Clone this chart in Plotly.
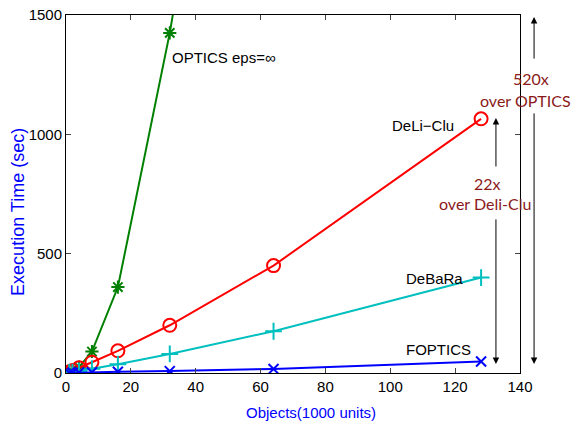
import plotly.graph_objects as go

objects = [1, 2, 4, 8, 16, 32, 64, 128]
optics_x = [1, 2, 4, 8, 16, 32, 64]
optics = [3, 8, 25, 90, 360, 1425, 4000]
deliclu = [5, 10, 22, 45, 93, 200, 450, 1065]
debara = [2, 4, 8, 18, 37, 80, 175, 400]
foptics = [0.5, 1, 2, 3, 5, 8, 17, 48]

x_ticks = [0, 20, 40, 60, 80, 100, 120, 140]
y_ticks = [0, 500, 1000, 1500]

font = "Liberation Sans, Arial, Helvetica, sans-serif"
fig = go.Figure()

def add(x, y, name, color, symbol, size):
    fig.add_trace(go.Scatter(
        x=x, y=y, name=name, mode="lines+markers",
        line=dict(color=color, width=2),
        marker=dict(symbol=symbol, size=size, color=color,
                    line=dict(color=color, width=2)),
        cliponaxis=True, showlegend=False))

add(optics_x, optics, "OPTICS", "#008000", "asterisk-open", 11)
add(objects, deliclu, "DeLi-Clu", "#FF0000", "circle-open", 13)
add(objects, debara, "DeBaRa", "#00BFBF", "cross-thin-open", 12)
add(objects, foptics, "FOPTICS", "#0000FF", "x-thin-open", 10)

labels = [("OPTICS eps=∞", 32, 1324), ("DeLi−Clu", 99.8, 1039),
          ("DeBaRa", 104.2, 398), ("FOPTICS", 104.2, 100)]
for t, lx, ly in labels:
    fig.add_annotation(x=lx, y=ly, text=t, showarrow=False, xanchor="left",
                       yanchor="middle", font=dict(family=font, size=15, color="black"))

# arrows (speed-up markers), positions in axis-domain coordinates
ymax = 1500.0
arrows = [(0.947, 1068, 859), (0.947, 38, 650), (1.031, 1492, 1311), (1.031, 38, 1094)]
for ax_x, tip, tail in arrows:
    fig.add_annotation(x=ax_x, y=tip / ymax, ax=ax_x, ay=tail / ymax,
                       xref="x domain", yref="y domain", axref="x domain", ayref="y domain",
                       text="", showarrow=True,
                       arrowhead=2, arrowsize=1.3, arrowwidth=1, arrowcolor="black")

red = "#8B1A1A"
afont = dict(family="Lato, Carlito, sans-serif", size=16, color=red)
for t, tx, ty in [("22x", 0.928, 796), ("over Deli-Clu", 0.922, 712),
                  ("520x", 1.024, 1232), ("over OPTICS", 1.013, 1140)]:
    fig.add_annotation(x=tx, y=ty / ymax, xref="x domain", yref="y domain", text=t, showarrow=False,
                       xanchor="center", yanchor="middle", font=afont)

# axis titles
fig.add_annotation(x=0.54, y=0, xref="x domain", yref="y domain", yshift=-39,
                   text="Objects(1000 units)", showarrow=False, xanchor="center", yanchor="middle",
                   font=dict(family=font, size=15, color="#0000FF"))
fig.add_annotation(x=0, y=0.45, xref="x domain", yref="y domain", xshift=-48,
                   text="Execution Time (sec)", textangle=-90, showarrow=False,
                   xanchor="center", yanchor="middle",
                   font=dict(family=font, size=18, color="#0000FF"))

fig.update_xaxes(range=[0, 140], tickvals=x_ticks, ticks="inside", ticklen=5,
                 showline=True, mirror="ticks", linecolor="black", linewidth=1, automargin=False,
                 showgrid=False, zeroline=False, tickfont=dict(family=font, size=15, color="black"))
fig.update_yaxes(range=[0, 1500], tickvals=y_ticks, ticks="inside", ticklen=5,
                 showline=True, mirror="ticks", linecolor="black", linewidth=1, automargin=False,
                 showgrid=False, zeroline=False, tickfont=dict(family=font, size=15, color="black"))

fig.update_layout(width=572, height=421, plot_bgcolor="white", paper_bgcolor="white",
                  margin=dict(l=66, r=52, t=15, b=48))
fig.write_html("out.html", config={"displayModeBar": False},
               post_script="document.body.style.margin='0';")
